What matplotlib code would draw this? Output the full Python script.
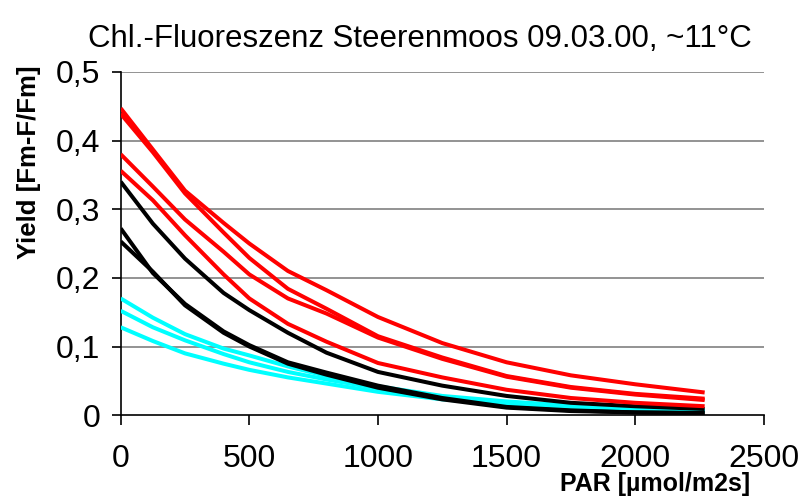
import matplotlib
matplotlib.use("Agg")
import matplotlib.pyplot as plt

plt.rcParams['font.family'] = ['Liberation Sans', 'DejaVu Sans']

# PAR steps (µmol/m2s)
par = [0, 125, 250, 400, 500, 650, 800, 1000, 1250, 1500, 1750, 2000, 2270]

# yield curves, red group
red_1 = [0.447, 0.387, 0.327, 0.280, 0.250, 0.210, 0.182, 0.143, 0.105, 0.077, 0.058, 0.045, 0.033]
red_2 = [0.439, 0.383, 0.323, 0.266, 0.229, 0.184, 0.155, 0.115, 0.084, 0.057, 0.041, 0.031, 0.024]
red_3 = [0.380, 0.333, 0.285, 0.238, 0.205, 0.170, 0.148, 0.113, 0.082, 0.056, 0.040, 0.030, 0.022]
red_4 = [0.356, 0.313, 0.262, 0.205, 0.170, 0.133, 0.107, 0.076, 0.055, 0.037, 0.025, 0.018, 0.013]

# black group
black_1 = [0.340, 0.279, 0.228, 0.178, 0.153, 0.120, 0.091, 0.063, 0.043, 0.028, 0.018, 0.013, 0.009]
black_2 = [0.272, 0.207, 0.162, 0.122, 0.102, 0.077, 0.062, 0.043, 0.025, 0.012, 0.007, 0.004, 0.003]
black_3 = [0.253, 0.209, 0.160, 0.120, 0.100, 0.075, 0.059, 0.040, 0.023, 0.011, 0.006, 0.004, 0.003]

# cyan group
cyan_1 = [0.170, 0.142, 0.118, 0.097, 0.087, 0.071, 0.057, 0.042, 0.028, 0.020, 0.014, 0.010, 0.008]
cyan_2 = [0.152, 0.128, 0.109, 0.089, 0.077, 0.063, 0.052, 0.039, 0.026, 0.018, 0.012, 0.009, 0.007]
cyan_3 = [0.128, 0.108, 0.090, 0.075, 0.066, 0.055, 0.046, 0.034, 0.023, 0.016, 0.011, 0.008, 0.006]

x_ticks = [0, 500, 1000, 1500, 2000, 2500]
y_ticks = [0, 0.1, 0.2, 0.3, 0.4, 0.5]
y_labels = ["0", "0,1", "0,2", "0,3", "0,4", "0,5"]

fig = plt.figure(figsize=(8.1, 4.99), dpi=100)
ax = fig.add_axes([0.149, 0.168, 0.794, 0.688])

for yv in y_ticks[1:]:
    ax.axhline(yv, color="#808080", lw=1.2, zorder=1)

for series, col in [(cyan_1, "#00FFFF"), (cyan_2, "#00FFFF"), (cyan_3, "#00FFFF"),
                    (black_1, "black"), (black_2, "black"), (black_3, "black"),
                    (red_1, "red"), (red_2, "red"), (red_3, "red"), (red_4, "red")]:
    ax.plot(par, series, color=col, lw=2.9, solid_capstyle="butt", zorder=3)

ax.set_xlim(0, 2500)
ax.set_ylim(0, 0.5)
ax.set_xticks(x_ticks)
ax.set_xticklabels([str(v) for v in x_ticks])
ax.set_yticks(y_ticks)
ax.set_yticklabels(y_labels)

for side in ["top", "right"]:
    ax.spines[side].set_visible(False)
for side in ["left", "bottom"]:
    ax.spines[side].set_color("black")
    ax.spines[side].set_linewidth(1.2)

ax.tick_params(axis="x", direction="out", length=7, width=1.2, pad=14, labelsize=23)
ax.tick_params(axis="y", direction="out", length=6.5, width=1.2, pad=8, labelsize=23)

fig.text(0.518, 0.922, "Chl.-Fluoreszenz Steerenmoos 09.03.00, ~11°C",
         ha="center", va="center", fontsize=22.5)
fig.text(0.036, 0.675, "Yield [Fm-F/Fm]", rotation=90, ha="center", va="center",
         fontsize=18.5, fontweight="bold")
fig.text(0.809, 0.006, "PAR [µmol/m2s]", ha="center", va="bottom",
         fontsize=18, fontweight="bold")

fig.savefig("out.png", dpi=100)
